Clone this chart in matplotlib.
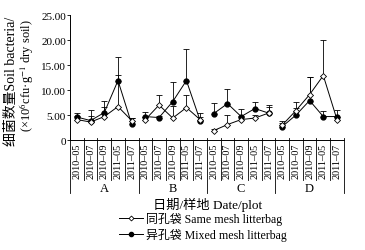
import matplotlib
matplotlib.use("Agg")
import matplotlib.pyplot as plt
from matplotlib.lines import Line2D
import numpy as np

plt.rcParams['font.family'] = ['Liberation Serif', 'Noto Sans CJK SC']
plt.rcParams['mathtext.fontset'] = 'stix'

# categories
plots = ["A", "B", "C", "D"]
dates = ["2010–05", "2010–07", "2010–09", "2011–05", "2011–07"]

# same mesh litterbag (open diamonds)
same_mean = [4.1, 3.6, 4.7, 6.7, 3.9,
             4.1, 7.0, 4.4, 6.5, 4.1,
             1.9, 3.1, 4.1, 4.4, 5.4,
             3.0, 5.9, 9.1, 12.9, 4.1]
same_err = [0.8, 1.3, 1.9, 6.3, 0.5,
            0.6, 2.1, 2.5, 2.6, 0.5,
            0.3, 2.0, 0.8, 0.6, 1.3,
            0.5, 0.5, 3.6, 7.2, 0.6]

# mixed mesh litterbag (filled circles)
mixed_mean = [4.6, 3.9, 5.5, 11.9, 3.2,
              4.7, 4.5, 7.7, 11.9, 3.9,
              5.3, 7.3, 4.7, 6.3, 5.4,
              2.7, 5.0, 7.9, 4.7, 4.7]
mixed_err = [0.9, 2.1, 2.4, 4.8, 1.2,
             1.0, 0.4, 4.0, 6.4, 1.5,
             2.2, 3.0, 1.5, 1.4, 1.7,
             1.2, 2.7, 4.8, 1.2, 1.3]

n = len(dates)
x = np.arange(len(plots) * n)

fig = plt.figure(figsize=(3.65, 2.51), dpi=100)
ax = fig.add_axes([0.192, 0.438, 0.75, 0.498])

for g in range(len(plots)):
    sl = slice(g * n, (g + 1) * n)
    xs = x[sl]
    # error bars (upper only)
    ax.errorbar(xs, np.array(mixed_mean[sl]), yerr=[np.zeros(n), np.array(mixed_err[sl])],
                fmt='none', ecolor='black', elinewidth=0.6, capsize=2.5, capthick=0.6, zorder=2)
    ax.errorbar(xs, np.array(same_mean[sl]), yerr=[np.zeros(n), np.array(same_err[sl])],
                fmt='none', ecolor='black', elinewidth=0.6, capsize=2.5, capthick=0.6, zorder=2)
    ax.plot(xs, mixed_mean[sl], color='black', lw=0.7, marker='o', ms=3.5,
            mfc='black', mec='black', zorder=3)
    ax.plot(xs, same_mean[sl], color='black', lw=0.7, marker='D', ms=3,
            mfc='white', mec='black', mew=0.6, zorder=4)

ax.set_xlim(-0.5, len(x) - 0.5)
ax.set_ylim(0, 25)
yt = [0, 5, 10, 15, 20, 25]
ax.set_yticks(yt)
ax.set_yticklabels(["0"] + ["%.2f" % v for v in yt[1:]], fontsize=8)
ax.tick_params(axis='y', direction='out', length=2, width=0.6, pad=1)

ax.set_xticks(x)
ax.set_xticklabels(dates * len(plots), rotation=90, fontsize=7.3)
ax.tick_params(axis='x', length=0, pad=2)

for s in ['top', 'right']:
    ax.spines[s].set_visible(False)
for s in ['left', 'bottom']:
    ax.spines[s].set_linewidth(0.7)

# separators below the axis
tr = ax.get_xaxis_transform()
for b in np.arange(-0.5, len(x), 1.0):
    is_group = (b + 0.5) % n == 0
    ax.plot([b, b], [0.02, -0.42 if is_group else -0.32], transform=tr,
            color='black', lw=0.6, clip_on=False)

for g, name in enumerate(plots):
    ax.text(g * n + (n - 1) / 2, -0.385, name, transform=tr, ha='center', va='center', fontsize=9)

fig.text(0.57, 0.183, "日期/样地 Date/plot", ha='center', va='center', fontsize=9.5)

fig.text(0.032, 0.675, "细菌数量Soil bacteria/", rotation=90, ha='center', va='center', fontsize=10)
fig.text(0.072, 0.70, "(×10$^{6}$cfu·g$^{-1}$ dry soil)", rotation=90, ha='center', va='center', fontsize=9)

handles = [
    Line2D([], [], color='black', lw=0.7, marker='D', ms=2.5, mfc='white', mec='black', mew=0.6),
    Line2D([], [], color='black', lw=0.7, marker='o', ms=3, mfc='black', mec='black'),
]
labels = ["同孔袋 Same mesh litterbag", "异孔袋 Mixed mesh litterbag"]
fig.legend(handles, labels, loc='upper left', bbox_to_anchor=(0.325, 0.15), frameon=False,
           fontsize=8.6, handlelength=2.0, handletextpad=0.3, labelspacing=0.22, borderpad=0,
           borderaxespad=0)

fig.savefig("out.png", dpi=100)
